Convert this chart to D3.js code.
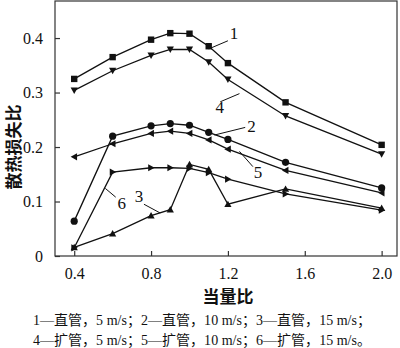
<!DOCTYPE html>
<html>
<head>
<meta charset="utf-8">
<script src="https://cdn.jsdelivr.net/npm/d3@7"></script>
<style>
  body { margin: 0; background: #fff; }
  svg text { fill: #111; }
</style>
</head>
<body>
<div id="chart"></div>
<script>
// equivalence ratio values
const ratios = [0.4, 0.6, 0.8, 0.9, 1.0, 1.1, 1.2, 1.5, 2.0];

// heat loss ratio per series
const s1 = [0.325, 0.365, 0.397, 0.409, 0.408, 0.385, 0.354, 0.282, 0.204];
const s2 = [0.064, 0.220, 0.239, 0.243, 0.240, 0.227, 0.214, 0.172, 0.125];
const s3 = [0.016, 0.041, 0.074, 0.085, 0.168, 0.159, 0.095, 0.123, 0.088];
const s4 = [0.304, 0.340, 0.368, 0.379, 0.379, 0.356, 0.324, 0.257, 0.187];
const s5 = [0.182, 0.206, 0.225, 0.229, 0.225, 0.213, 0.196, 0.157, 0.116];
const s6 = [0.015, 0.154, 0.162, 0.162, 0.161, 0.153, 0.141, 0.114, 0.084];

const xTicks = [0.4, 0.8, 1.2, 1.6, 2.0];
const yTicks = [0, 0.1, 0.2, 0.3, 0.4];

const legendLines = [
  "1—直管，5 m/s；2—直管，10 m/s；3—直管，15 m/s；",
  "4—扩管，5 m/s；5—扩管，10 m/s；6—扩管，15 m/s。"
];

// series label, leader line (in data units) and label position
const seriesLabels = [
  { name: "1", from: [1.1, 0.380], to: [1.2, 0.395], at: [1.21, 0.398] },
  { name: "4", from: [1.26, 0.298], to: [1.16, 0.283], at: [1.135, 0.262] },
  { name: "2", from: [1.13, 0.222], to: [1.29, 0.236], at: [1.3, 0.228] },
  { name: "5", from: [1.26, 0.192], to: [1.33, 0.164], at: [1.335, 0.143] },
  { name: "6", from: [0.562, 0.124], to: [0.616, 0.108], at: [0.625, 0.087] },
  { name: "3", from: [0.847, 0.079], to: [0.763, 0.095], at: [0.715, 0.1] }
];

const series = [
  { values: s1, marker: "square" },
  { values: s4, marker: "down" },
  { values: s2, marker: "circle" },
  { values: s5, marker: "left" },
  { values: s6, marker: "right" },
  { values: s3, marker: "up" }
];

const W = 400, H = 348;
const margin = { top: 1, right: 3, bottom: 92, left: 55 };
const width = W - margin.left - margin.right,
      height = H - margin.top - margin.bottom;

const svg = d3.select("#chart").append("svg")
  .attr("width", W)
  .attr("height", H);

const g = svg.append("g")
  .attr("transform", `translate(${margin.left},${margin.top})`);

const x = d3.scaleLinear().domain([0.3, 2.08]).range([0, width]);
const y = d3.scaleLinear().domain([0, 0.468]).range([height, 0]);

// frame
g.append("rect")
  .attr("width", width)
  .attr("height", height)
  .attr("fill", "none")
  .attr("stroke", "#333")
  .attr("stroke-width", 1.2);

const serif = "'Liberation Serif', 'Times New Roman', serif";

// axes with inward ticks
const xAxis = g.append("g")
  .attr("transform", `translate(0,${height})`)
  .call(d3.axisBottom(x).tickValues(xTicks).tickFormat(d3.format(".1f"))
    .tickSizeInner(-5).tickSizeOuter(0).tickPadding(12));
xAxis.select(".domain").remove();
xAxis.selectAll("text").style("font-family", serif).style("font-size", "16px");

const yAxis = g.append("g")
  .call(d3.axisLeft(y).tickValues(yTicks).tickFormat(d => d === 0 ? "0" : d3.format(".1f")(d))
    .tickSizeInner(-5).tickSizeOuter(0).tickPadding(12));
yAxis.select(".domain").remove();
yAxis.selectAll("text").style("font-family", serif).style("font-size", "16px");
g.selectAll(".tick line").attr("stroke", "#333").attr("stroke-width", 1.2);

// axis titles
svg.append("text")
  .attr("x", margin.left + x(1.2))
  .attr("y", 303)
  .attr("text-anchor", "middle")
  .style("font-family", "'Noto Sans CJK SC', sans-serif")
  .style("font-weight", "bold")
  .style("font-size", "17px")
  .text("当量比");

svg.append("text")
  .attr("transform", `translate(20,${margin.top + y(0.2)}) rotate(-90)`)
  .attr("text-anchor", "middle")
  .style("font-family", "'Noto Sans CJK SC', sans-serif")
  .style("font-weight", "bold")
  .style("font-size", "17px")
  .text("散热损失比");

// lines
const line = d3.line()
  .x((d, i) => x(ratios[i]))
  .y(d => y(d));

g.selectAll(".series")
  .data(series)
  .enter().append("path")
  .attr("class", "series")
  .attr("d", d => line(d.values))
  .attr("fill", "none")
  .attr("stroke", "#111")
  .attr("stroke-width", 1.3);

// markers
const s = 3.6;
const markerPath = {
  square: `M${-s+0.4},${-s+0.4}H${s-0.4}V${s-0.4}H${-s+0.4}Z`,
  up: `M0,${-s}L${s},${s*0.8}L${-s},${s*0.8}Z`,
  down: `M0,${s}L${s},${-s*0.8}L${-s},${-s*0.8}Z`,
  left: `M${-s},0L${s*0.8},${-s}L${s*0.8},${s}Z`,
  right: `M${s},0L${-s*0.8},${-s}L${-s*0.8},${s}Z`
};

series.forEach(function(sr) {
  const pts = g.append("g").selectAll("g")
    .data(sr.values)
    .enter().append("g")
    .attr("transform", (d, i) => `translate(${x(ratios[i])},${y(d)})`);
  if (sr.marker === "circle") {
    pts.append("circle").attr("r", 3.6).attr("fill", "#111");
  } else {
    pts.append("path").attr("d", markerPath[sr.marker]).attr("fill", "#111");
  }
});

// series labels with leader lines
const lab = g.selectAll(".lab")
  .data(seriesLabels)
  .enter().append("g")
  .attr("class", "lab");

lab.append("line")
  .attr("x1", d => x(d.from[0]))
  .attr("y1", d => y(d.from[1]))
  .attr("x2", d => x(d.to[0]))
  .attr("y2", d => y(d.to[1]))
  .attr("stroke", "#111")
  .attr("stroke-width", 1);

lab.append("text")
  .attr("x", d => x(d.at[0]))
  .attr("y", d => y(d.at[1]))
  .style("font-family", serif)
  .style("font-size", "17px")
  .text(d => d.name);

// legend text
svg.selectAll(".legend")
  .data(legendLines)
  .enter().append("text")
  .attr("class", "legend")
  .attr("x", 202)
  .attr("y", (d, i) => 325 + i * 19.5)
  .attr("text-anchor", "middle")
  .attr("textLength", 338)
  .attr("lengthAdjust", "spacing")
  .style("font-family", "'Liberation Serif', 'Noto Sans CJK SC', serif")
  .style("font-size", "14px")
  .text(d => d);
</script>
</body>
</html>
